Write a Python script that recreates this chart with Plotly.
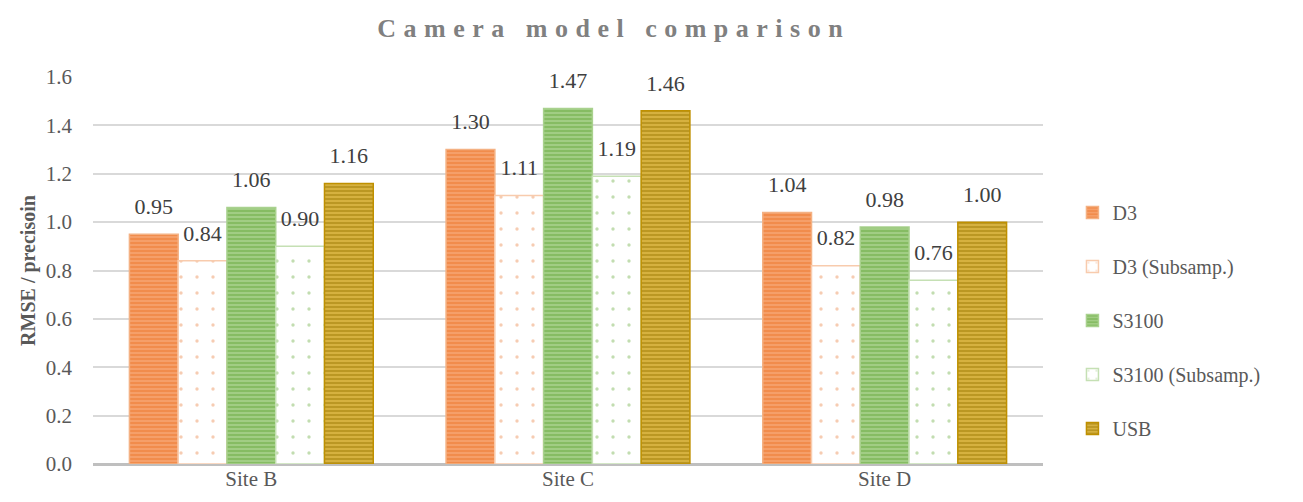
import plotly.graph_objects as go

sites = ["Site B", "Site C", "Site D"]
series_names = ["D3", "D3 (Subsamp.)", "S3100", "S3100 (Subsamp.)", "USB"]
d3 = [0.95, 1.30, 1.04]
d3_sub = [0.84, 1.11, 0.82]
s3100 = [1.06, 1.47, 0.98]
s3100_sub = [0.90, 1.19, 0.76]
usb = [1.16, 1.46, 1.00]
y_ticks = [0.0, 0.2, 0.4, 0.6, 0.8, 1.0, 1.2, 1.4, 1.6]

series_values = [d3, d3_sub, s3100, s3100_sub, usb]

SERIF = "Liberation Serif, Times New Roman, Times, serif"

# (fill background, pattern colour, outline colour, pattern shape)
styles = [
    ("#F6A470", "#EB7328", "#F4B183", "-"),
    ("#FFFFFF", "#EE9A66", "#F8CBAD", "."),
    ("#A8D18C", "#64A83A", "#A9D18E", "-"),
    ("#FFFFFF", "#86BC62", "#C5E0B4", "."),
    ("#DDB846", "#9A7500", "#BF9000", "-"),
]

GAP = 0.23

fig = go.Figure()
for name, vals, (bg, fg, line, shape) in zip(series_names, series_values, styles):
    fig.add_trace(go.Bar(
        x=sites, y=vals, name=name, legendgroup=name,
        offsetgroup=name,
        marker=dict(
            color=bg,
            line=dict(color=line, width=1.5),
            pattern=dict(
                shape=shape,
                fgcolor=fg,
                bgcolor=bg,
                size=4 if shape == "-" else 16,
                solidity=0.6 if shape == "-" else 0.035,
                fillmode="overlay",
            ),
        ),
    ))

# value labels, grouped the same way as the bars and lifted a little above them
for name, vals in zip(series_names, series_values):
    fig.add_trace(go.Scatter(
        x=sites, y=vals, mode="markers+text", offsetgroup=name,
        text=[f"{v:.2f}" for v in vals],
        textposition="top center",
        marker=dict(size=22, opacity=0),
        textfont=dict(family=SERIF, size=22, color="#404040"),
        showlegend=False, hoverinfo="skip", cliponaxis=False,
    ))

fig.update_layout(
    width=1303, height=502,
    margin=dict(l=93, r=260, t=77, b=38),
    paper_bgcolor="white", plot_bgcolor="white",
    barmode="group", bargap=GAP, bargroupgap=0,
    scattermode="group", scattergap=GAP,
    font=dict(family=SERIF, color="#595959", size=20),
    title=dict(
        text='<b><span style="letter-spacing:7.5px">Camera model comparison</span></b>',
        x=0.471, xanchor="center", xref="container",
        y=0.945, yanchor="middle",
        font=dict(family=SERIF, size=26, color="#808080"),
    ),
    xaxis=dict(
        showgrid=False, showline=False, ticks="",
        tickfont=dict(family=SERIF, size=21, color="#595959"),
    ),
    yaxis=dict(
        range=[0, 1.6], tickvals=y_ticks, tickformat=".1f",
        showgrid=True, gridcolor="#D9D9D9", gridwidth=1.5,
        zeroline=True, zerolinecolor="#BFBFBF", zerolinewidth=3,
        ticks="", ticklen=0, ticklabelstandoff=20,
        tickfont=dict(family=SERIF, size=21, color="#595959"),
        title=dict(text="<b>RMSE / precisoin</b>", standoff=4,
                   font=dict(family=SERIF, size=20, color="#595959")),
    ),
    legend=dict(
        x=1.031, xanchor="left", y=0.70, yanchor="top",
        font=dict(family=SERIF, size=20, color="#595959"),
        tracegroupgap=25, itemwidth=30,
        bgcolor="rgba(0,0,0,0)",
    ),
)

fig.write_html("out.html")
